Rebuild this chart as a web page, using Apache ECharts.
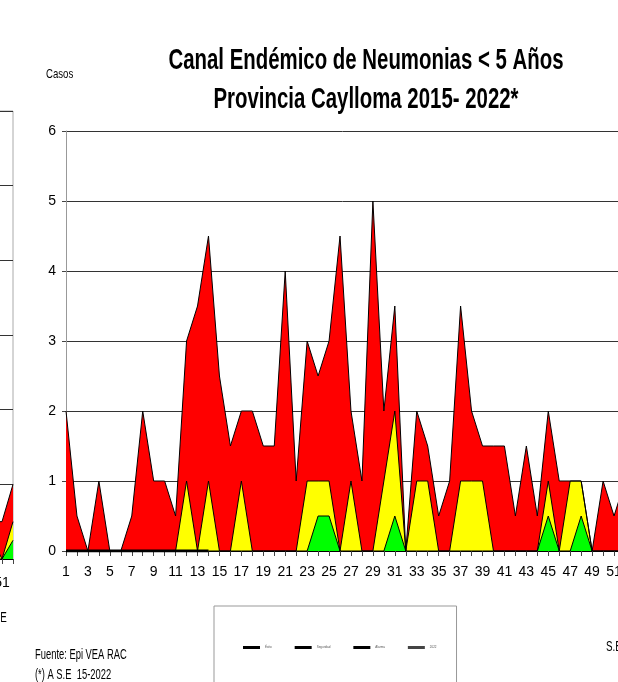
<!DOCTYPE html>
<html>
<head>
<meta charset="utf-8">
<script src="https://cdn.jsdelivr.net/npm/echarts@6.0.0/dist/echarts.min.js"></script>
<style>
  html, body { margin: 0; padding: 0; background: #fff; }
  #chart { width: 618px; height: 682px; }
</style>
</head>
<body>
<div id="chart"></div>
<script>
// semanas epidemiologicas
const weeks = ['1','2','3','4','5','6','7','8','9','10','11','12','13','14','15','16','17','18','19','20',
  '21','22','23','24','25','26','27','28','29','30','31','32','33','34','35','36','37','38','39','40',
  '41','42','43','44','45','46','47','48','49','50','51','52']

// zona de alarma (rojo)
const alarma = [2, 0.5, 0, 1, 0, 0, 0.5, 2, 1, 1, 0.5, 3, 3.5, 4.5, 2.5, 1.5, 2, 2, 1.5, 1.5,
  4, 1, 3, 2.5, 3, 4.5, 2, 1, 5, 2, 3.5, 0, 2, 1.5, 0.5, 1, 3.5, 2, 1.5, 1.5,
  1.5, 0.5, 1.5, 0.5, 2, 1, 1, 1, 0, 1, 0.5, 1]
// zona de seguridad (amarillo)
const seguridad = [0, 0, 0, 0, 0, 0, 0, 0, 0, 0, 0, 1, 0, 1, 0, 0, 1, 0, 0, 0,
  0, 0, 1, 1, 1, 0, 1, 0, 0, 1, 2, 0, 1, 1, 0, 0, 1, 1, 1, 0,
  0, 0, 0, 0, 1, 0, 1, 1, 0, 0, 0, 0]
// zona de exito (verde)
const exito = [0, 0, 0, 0, 0, 0, 0, 0, 0, 0, 0, 0, 0, 0, 0, 0, 0, 0, 0, 0,
  0, 0, 0, 0.5, 0.5, 0, 0, 0, 0, 0, 0.5, 0, 0, 0, 0, 0, 0, 0, 0, 0,
  0, 0, 0, 0, 0.5, 0, 0, 0.5, 0, 0, 0, 0]
// casos 2022 (hasta S.E 14)
const casos2022 = [0, 0, 0, 0, 0, 0, 0, 0, 0, 0, 0, 0, 0, 0]

// grafico vecino (solo se ve el final)
const vecinoAlarma = [null, null, null, null, null, null, null, null, null, null, null, null, null, null, null, null, null, null, null, null,
  null, null, null, null, null, null, null, null, null, null, null, null, null, null, null, null, null, null, null, null,
  null, null, null, null, null, null, null, null, null, 0.5, 0.5, 1]
const vecinoSeguridad = [null, null, null, null, null, null, null, null, null, null, null, null, null, null, null, null, null, null, null, null,
  null, null, null, null, null, null, null, null, null, null, null, null, null, null, null, null, null, null, null, null,
  null, null, null, null, null, null, null, null, null, 0.3, 0, 0.5]
const vecinoExito = [null, null, null, null, null, null, null, null, null, null, null, null, null, null, null, null, null, null, null, null,
  null, null, null, null, null, null, null, null, null, null, null, null, null, null, null, null, null, null, null, null,
  null, null, null, null, null, null, null, null, null, 0, 0, 0.25]

const yTicks = [0, 6, 1]
const legendNames = ['Éxito', 'Seguridad', 'Alarma', '2022']

const FONT = "'Liberation Sans', Arial, sans-serif"

let myChart = echarts.init(document.getElementById('chart'), null, { renderer: 'canvas' })

function zona(name, data, color, grid) {
    return {
        name: name,
        type: 'line',
        xAxisIndex: grid,
        yAxisIndex: grid,
        data: data,
        showSymbol: false,
        symbol: 'none',
        silent: true,
        itemStyle: { color: color },
        lineStyle: { color: '#000', width: 1 },
        areaStyle: { color: color, opacity: 1, origin: 'start' },
        animation: false
    }
}

function ejeX(grid, margin) {
    return {
        type: 'category',
        gridIndex: grid,
        data: weeks,
        boundaryGap: false,
        axisLine: { show: true, lineStyle: { color: '#000', width: 1 } },
        axisTick: { show: true, interval: 0, length: 5, lineStyle: { color: '#444' } },
        axisLabel: { interval: 1, margin: margin, color: '#000', fontFamily: FONT, fontSize: 14, hideOverlap: false },
        splitLine: { show: false }
    }
}

function ejeY(grid, showLabel) {
    return {
        type: 'value',
        gridIndex: grid,
        min: yTicks[0],
        max: yTicks[1],
        interval: yTicks[2],
        axisLine: { show: true, lineStyle: { color: '#999', width: 1 } },
        axisTick: { show: true, length: 4, lineStyle: { color: '#444' } },
        axisLabel: { show: showLabel, margin: 10, color: '#000', fontFamily: FONT, fontSize: 14 },
        splitLine: { show: true, lineStyle: { color: '#333', width: 1 } }
    }
}

// el original usa una letra angosta: se comprime en horizontal
function texto(str, x, y, size, narrow, bold, align) {
    return {
        type: 'text',
        x: x,
        y: y,
        scaleX: narrow,
        silent: true,
        style: {
            text: str,
            font: (bold ? 'bold ' : '') + size + 'px ' + FONT,
            fill: '#000',
            align: align || 'left',
            verticalAlign: 'middle'
        }
    }
}

let option = {
    backgroundColor: '#fff',
    animation: false,
    legend: {
        data: legendNames.map(function (n, i) {
            return { name: n, icon: 'rect', itemStyle: { color: i === 3 ? '#444' : '#000', borderWidth: 0 } }
        }),
        left: 214,
        top: 606,
        padding: [40, 20, 60, 29],
        itemWidth: 17,
        itemHeight: 3,
        itemGap: 23,
        selectedMode: false,
        borderColor: '#999',
        borderWidth: 1,
        textStyle: { fontSize: 3, color: '#555', fontFamily: FONT }
    },
    grid: [
        { left: 66, right: -7, top: 131, bottom: 131, outerBoundsMode: 'none', containLabel: false },
        { left: -548, right: 605, top: 111, bottom: 123, outerBoundsMode: 'none', containLabel: false,
          show: true, borderColor: '#aaa', borderWidth: 1 }
    ],
    xAxis: [ejeX(0, 14), ejeX(1, 17)],
    yAxis: [ejeY(0, true), ejeY(1, false)],
    series: [
        zona('Alarma', alarma, '#ff0000', 0),
        zona('Seguridad', seguridad, '#ffff00', 0),
        zona('Éxito', exito, '#00ff00', 0),
        {
            name: '2022',
            type: 'line',
            data: casos2022,
            showSymbol: false,
            symbol: 'none',
            silent: true,
            itemStyle: { color: '#000' },
            lineStyle: { color: '#000', width: 3 },
            z: 5
        },
        zona('Alarma', vecinoAlarma, '#ff0000', 1),
        zona('Seguridad', vecinoSeguridad, '#ffff00', 1),
        zona('Éxito', vecinoExito, '#00ff00', 1)
    ],
    graphic: [
        texto('Canal Endémico de Neumonias < 5 Años', 366, 61, 30, 0.68, true, 'center'),
        texto('Provincia Caylloma 2015- 2022*', 366, 100, 30, 0.68, true, 'center'),
        texto('Casos', 46, 74, 13, 0.74),
        texto('Fuente: Epi VEA RAC', 35, 655, 14, 0.67),
        texto('(*) A S.E  15-2022', 35, 675, 14, 0.67),
        texto('S.E', 606, 647, 14, 0.7),
        texto('S.E', -9, 618, 14, 0.7)
    ]
}

myChart.setOption(option)
</script>
</body>
</html>
